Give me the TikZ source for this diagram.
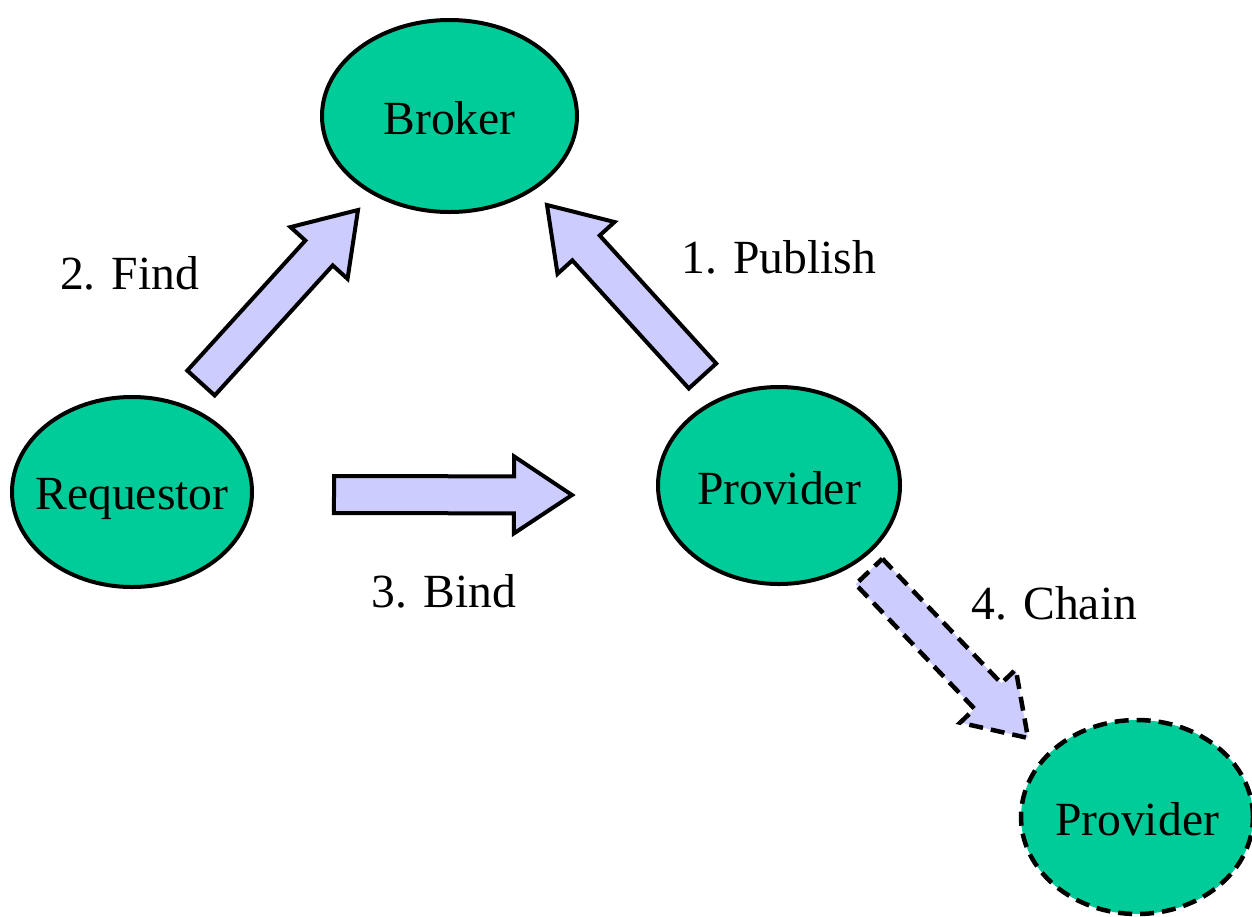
\documentclass[tikz,border=0pt]{standalone}
\usepackage{fontspec}
\setmainfont{Liberation Serif}
\usetikzlibrary{shapes.geometric,calc}

\definecolor{nodegreen}{HTML}{00CC99}
\definecolor{arrowblue}{HTML}{CCCCFF}

% block arrow from tail coordinate #2 to tip coordinate #3
\newcommand{\shw}{18.5pt}% half shaft width
\newcommand{\hhw}{38.5pt}% half head width
\newcommand{\hl}{58pt}% head length
\newcommand{\blockarr}[3][]{%
  \draw[barrow,#1]
    ($(#2)!\shw!90:(#3)$)
    -- ($(#3)!\hl!(#2)!\shw!90:(#3)$)
    -- ($(#3)!\hl!(#2)!\hhw!90:(#3)$)
    -- (#3)
    -- ($(#3)!\hl!(#2)!\hhw!-90:(#3)$)
    -- ($(#3)!\hl!(#2)!\shw!-90:(#3)$)
    -- ($(#2)!\shw!-90:(#3)$) -- cycle;}

\tikzset{
  role/.style={ellipse, draw=black, line width=4pt, fill=nodegreen, inner sep=0pt},
  optional/.style={dash pattern=on 14pt off 8pt, line width=4.5pt},
  barrow/.style={draw=black, fill=arrowblue, line width=4pt, line join=miter},
  steplabel/.style={anchor=base},
  every label/.style={text depth=0pt, yshift=-2pt},
}

\begin{document}
\begin{tikzpicture}[x=1pt, y=-1pt, font=\fontsize{47.6}{57}\selectfont]
\useasboundingbox (0,0) rectangle (1252,916);

% roles
\node[role, minimum width=255pt, minimum height=192pt, label=center:Broker] (broker) at (449.5,116) {};
\node[role, minimum width=240pt, minimum height=190pt, label=center:Requestor] (requestor) at (132,492) {};
\node[role, minimum width=242pt, minimum height=197pt, label=center:Provider] (provider) at (779,485.5) {};
\node[role, optional, minimum width=232pt, minimum height=194pt, label=center:Provider] (provider2) at (1137,817) {};

% arrow end points
\coordinate (findS) at (201,383);
\coordinate (findT) at (358,210);
\coordinate (pubS) at (702.5,376);
\coordinate (pubT) at (547,205);
\coordinate (bindS) at (334,494.5);
\coordinate (bindT) at (572,495);
\coordinate (chainS) at (869,571.5);
\coordinate (chainT) at (1028,738);

\blockarr{findS}{findT}
\blockarr{pubS}{pubT}
\blockarr{bindS}{bindT}
\blockarr[optional]{chainS}{chainT}

% step labels
\node[steplabel] (lfind) at (129.5,289) {2. Find};
\node[steplabel] (lpub) at (779,273) {1. Publish};
\node[steplabel] (lbind) at (444,607) {3. Bind};
\node[steplabel] (lchain) at (1054.5,619) {4. Chain};
\end{tikzpicture}
\end{document}
